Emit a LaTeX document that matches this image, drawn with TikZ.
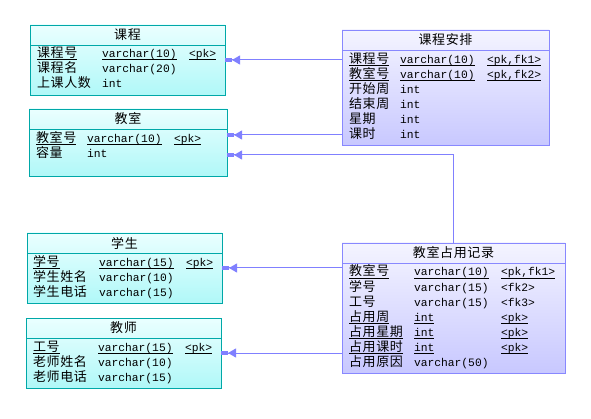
\documentclass[tikz,border=0pt]{standalone}
\usepackage{fontspec}
\newfontfamily\cjk[LetterSpace=5]{Noto Sans CJK SC}
\newfontfamily\mono{Liberation Mono}
\usetikzlibrary{arrows.meta}
\definecolor{cborder}{RGB}{0,168,168}
\definecolor{ctop}{RGB}{234,255,255}
\definecolor{cbot}{RGB}{176,248,248}
\definecolor{pborder}{RGB}{136,136,255}
\definecolor{ptop}{RGB}{244,244,255}
\definecolor{pbot}{RGB}{200,200,255}
\definecolor{connc}{RGB}{128,128,255}
\tikzset{
  cyanbox/.style={draw=cborder, line width=0.9pt, top color=ctop, bottom color=cbot, outer sep=0pt, inner sep=0pt, anchor=north west},
  purpbox/.style={draw=pborder, line width=0.9pt, top color=ptop, bottom color=pbot, outer sep=0pt, inner sep=0pt, anchor=north west},
  cjkt/.style={font=\fontsize{13}{15}\selectfont\cjk, inner sep=0pt, outer sep=0pt, anchor=base west},
  monot/.style={font=\fontsize{11.3}{15}\selectfont\mono, inner sep=0pt, outer sep=0pt, anchor=base west},
  hdr/.style={font=\fontsize{13}{15}\selectfont\cjk, inner sep=0pt, outer sep=0pt, anchor=center},
  ulline/.style={draw=black, line width=0.8pt},
  conn/.style={draw=connc, line width=1pt, -{Triangle[length=8pt,width=9pt]Rectangle[length=7pt,width=4pt]}},
}
\newcommand\fld[9]{%
  \node[cjkt] (#1n) at (#2,#5) {#6};
  \node[monot] (#1t) at (#3,#5) {#7};
  \node[monot] (#1k) at (#4,#5) {#8};
  \ifnum#9=1
    \draw[ulline] ([yshift=-2pt]#1n.base west) -- ([yshift=-2pt]#1n.base east);
    \draw[ulline] ([yshift=-2pt]#1t.base west) -- ([yshift=-2pt]#1t.base east);
    \draw[ulline] ([yshift=-2pt]#1k.base west) -- ([yshift=-2pt]#1k.base east);
  \fi}
\newcommand\tablehead[4]{%
  \node[hdr] (#1h) at ([yshift=-10pt]#2.north) {#3};
  \draw[draw=#4, line width=0.9pt] ([yshift=-20pt]#2.north west) -- ([yshift=-20pt]#2.north east);}
\begin{document}
\begin{tikzpicture}[x=1pt,y=-1pt]
\fill[white] (0,0) rectangle (591,419);
\useasboundingbox (0,0) rectangle (591,419);

% 课程
\node[cyanbox, minimum width=195pt, minimum height=70pt] (kc) at (30,25) {};
\tablehead{kc}{kc}{课程}{cborder}
\fld{kca}{37}{102}{189}{57.5}{课程号}{varchar(10)}{<pk>}{1}
\fld{kcb}{37}{102}{189}{72.5}{课程名}{varchar(20)}{}{0}
\fld{kcc}{37}{102}{189}{87.5}{上课人数}{int}{}{0}

% 教室
\node[cyanbox, minimum width=198pt, minimum height=67pt] (js) at (29,109) {};
\tablehead{js}{js}{教室}{cborder}
\fld{jsa}{36}{87}{174}{142.5}{教室号}{varchar(10)}{<pk>}{1}
\fld{jsb}{36}{87}{174}{157.5}{容量}{int}{}{0}

% 课程安排
\node[purpbox, minimum width=207pt, minimum height=115pt] (kcap) at (342,30) {};
\tablehead{kcap}{kcap}{课程安排}{pborder}
\fld{apa}{349}{400}{487}{63.5}{课程号}{varchar(10)}{<pk,fk1>}{1}
\fld{apb}{349}{400}{487}{78.5}{教室号}{varchar(10)}{<pk,fk2>}{1}
\fld{apc}{349}{400}{487}{93.5}{开始周}{int}{}{0}
\fld{apd}{349}{400}{487}{108.5}{结束周}{int}{}{0}
\fld{ape}{349}{400}{487}{123.5}{星期}{int}{}{0}
\fld{apf}{349}{400}{487}{138.5}{课时}{int}{}{0}

% 学生
\node[cyanbox, minimum width=195pt, minimum height=70pt] (xs) at (27,233) {};
\tablehead{xs}{xs}{学生}{cborder}
\fld{xsa}{33}{99}{186}{266.5}{学号}{varchar(15)}{<pk>}{1}
\fld{xsb}{33}{99}{186}{281.5}{学生姓名}{varchar(10)}{}{0}
\fld{xsc}{33}{99}{186}{296.5}{学生电话}{varchar(15)}{}{0}

% 教师
\node[cyanbox, minimum width=195pt, minimum height=70pt] (jsh) at (26,318) {};
\tablehead{jsh}{jsh}{教师}{cborder}
\fld{jha}{33}{98}{185}{351.5}{工号}{varchar(15)}{<pk>}{1}
\fld{jhb}{33}{98}{185}{366.5}{老师姓名}{varchar(10)}{}{0}
\fld{jhc}{33}{98}{185}{381.5}{老师电话}{varchar(15)}{}{0}

% 教室占用记录
\node[purpbox, minimum width=223pt, minimum height=130pt] (jszy) at (342,243) {};
\tablehead{jszy}{jszy}{教室占用记录}{pborder}
\fld{zya}{349}{414}{501}{276}{教室号}{varchar(10)}{<pk,fk1>}{1}
\fld{zyb}{349}{414}{501}{291}{学号}{varchar(15)}{<fk2>}{0}
\fld{zyc}{349}{414}{501}{306}{工号}{varchar(15)}{<fk3>}{0}
\fld{zyd}{349}{414}{501}{321}{占用周}{int}{<pk>}{1}
\fld{zye}{349}{414}{501}{336}{占用星期}{int}{<pk>}{1}
\fld{zyf}{349}{414}{501}{351}{占用课时}{int}{<pk>}{1}
\fld{zyg}{349}{414}{501}{366}{占用原因}{varchar(50)}{}{0}

% connectors
\coordinate (y1) at (0,60);
\coordinate (y2) at (0,135);
\coordinate (y3) at (0,155);
\coordinate (x3) at (453,0);
\coordinate (y4) at (0,268);
\coordinate (y5) at (0,353);
\draw[conn] (kcap.west |- y1) -- (kc.east |- y1);
\draw[conn] (kcap.west |- y2) -- (js.east |- y2);
\draw[conn] (jszy.north -| x3) |- (js.east |- y3);
\draw[conn] (jszy.west |- y4) -- (xs.east |- y4);
\draw[conn] (jszy.west |- y5) -- (jsh.east |- y5);
\end{tikzpicture}
\end{document}
